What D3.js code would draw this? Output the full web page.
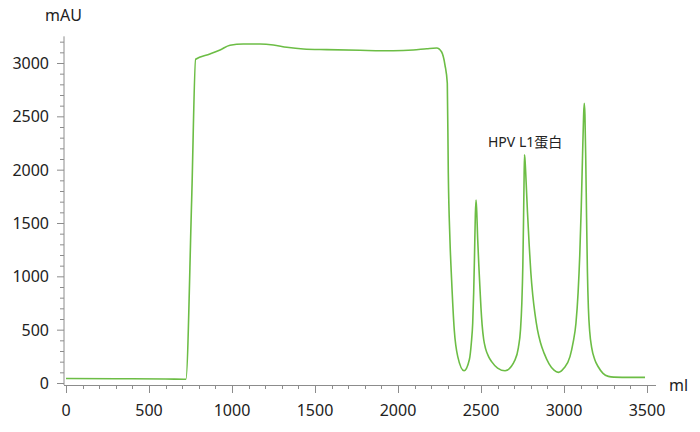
<!DOCTYPE html>
<html>
<head>
<meta charset="utf-8">
<script src="https://cdn.jsdelivr.net/npm/d3@7"></script>
<style>
  body { margin: 0; background: #fff; }
  svg text { font-family: "Noto Sans", "Noto Sans CJK SC", sans-serif; fill: #222; }
</style>
</head>
<body>
<svg width="700" height="432"></svg>
<script>
// data (ml, mAU)
var volume = [0, 300, 600, 722, 757, 781, 867, 928, 988, 1068, 1169, 1249, 1330, 1430, 1570, 1771, 1972, 2092, 2173, 2233,
              2263, 2283, 2297, 2303, 2313, 2323, 2339, 2360, 2398, 2430, 2442, 2450, 2456, 2461, 2466, 2470, 2474,
              2480, 2487, 2494, 2500, 2507, 2516, 2528, 2545, 2564, 2600, 2645, 2705, 2725, 2738, 2746, 2752, 2756,
              2759, 2762, 2766, 2772, 2780, 2790, 2800, 2812, 2825, 2840, 2858, 2880, 2910, 2940, 2966, 3000, 3036,
              3055, 3072, 3085, 3095, 3104, 3112, 3118, 3122, 3126, 3131, 3136, 3141, 3147, 3155, 3167, 3185, 3207,
              3235, 3267, 3300, 3400, 3488];
var absorbance = [42, 40, 38, 35, 1716, 3035, 3084, 3122, 3166, 3178, 3178, 3169, 3147, 3131, 3125, 3119, 3115, 3122, 3134, 3141,
                  3103, 2981, 2810, 1969, 1341, 966, 497, 247, 115, 220, 380, 560, 850, 1200, 1580, 1716, 1620,
                  1350, 1100, 880, 700, 540, 410, 320, 250, 200, 140, 115, 216, 330, 500, 750, 1100, 1500,
                  1850, 2140, 2070, 1880, 1600, 1300, 1040, 820, 650, 500, 380, 280, 180, 120, 100, 140, 247,
                  380, 560, 850, 1200, 1650, 2150, 2500, 2622, 2520, 2100, 1550, 1050, 700, 480, 330, 220, 150,
                  90, 62, 55, 53, 53];

var xTicks = [0, 500, 1000, 1500, 2000, 2500, 3000, 3500];
var yTicks = [0, 500, 1000, 1500, 2000, 2500, 3000];
var xLabel = "ml", yLabel = "mAU";
var peakLabel = "HPV L1蛋白";

var svg = d3.select("svg");

var x = d3.scaleLinear().domain([0, 3500]).range([66, 647]);
var y = d3.scaleLinear().domain([0, 3000]).range([383, 63]);

var axisColour = "#8c8c8c";

// y axis
var gy = svg.append("g");
gy.append("line")
  .attr("x1", 64).attr("x2", 64)
  .attr("y1", 385).attr("y2", y(3250))
  .attr("stroke", axisColour);
gy.selectAll("line.minor")
  .data(d3.range(0, 3300, 100))
  .enter()
  .append("line")
    .attr("class", "minor")
    .attr("x1", d => d % 500 == 0 ? 57 : 60)
    .attr("x2", 64)
    .attr("y1", d => y(d) + 0.5)
    .attr("y2", d => y(d) + 0.5)
    .attr("stroke", axisColour);
gy.selectAll("text")
  .data(yTicks)
  .enter()
  .append("text")
    .attr("x", 49)
    .attr("y", d => y(d) + 6)
    .attr("text-anchor", "end")
    .style("font-size", "16px")
    .text(d => d);

// x axis
var gx = svg.append("g");
gx.append("line")
  .attr("x1", 64).attr("x2", 656)
  .attr("y1", 385.5).attr("y2", 385.5)
  .attr("stroke", axisColour);
gx.selectAll("line.minor")
  .data(d3.range(0, 3600, 100))
  .enter()
  .append("line")
    .attr("class", "minor")
    .attr("x1", d => Math.round(x(d)) + 0.5)
    .attr("x2", d => Math.round(x(d)) + 0.5)
    .attr("y1", 385)
    .attr("y2", d => d % 500 == 0 ? 393 : 389)
    .attr("stroke", axisColour);
gx.selectAll("text")
  .data(xTicks)
  .enter()
  .append("text")
    .attr("x", d => x(d))
    .attr("y", 416)
    .attr("text-anchor", "middle")
    .style("font-size", "16px")
    .text(d => d);

// axis titles
svg.append("text").attr("x", 45).attr("y", 21).style("font-size", "16px").text(yLabel);
svg.append("text").attr("x", 669).attr("y", 391).style("font-size", "16px").text(xLabel);

// trace
var points = volume.map((v, i) => [v, absorbance[i]]);
var line = d3.line()
  .x(d => x(d[0]))
  .y(d => y(d[1]))
  .curve(d3.curveMonotoneX);

svg.append("path")
  .datum(points)
  .attr("d", line)
  .attr("fill", "none")
  .attr("stroke", "#6cbd45")
  .attr("stroke-width", 1.6);

// peak annotation
svg.append("text")
  .attr("x", 488)
  .attr("y", 147)
  .style("font-size", "14px")
  .text(peakLabel);
</script>
</body>
</html>
